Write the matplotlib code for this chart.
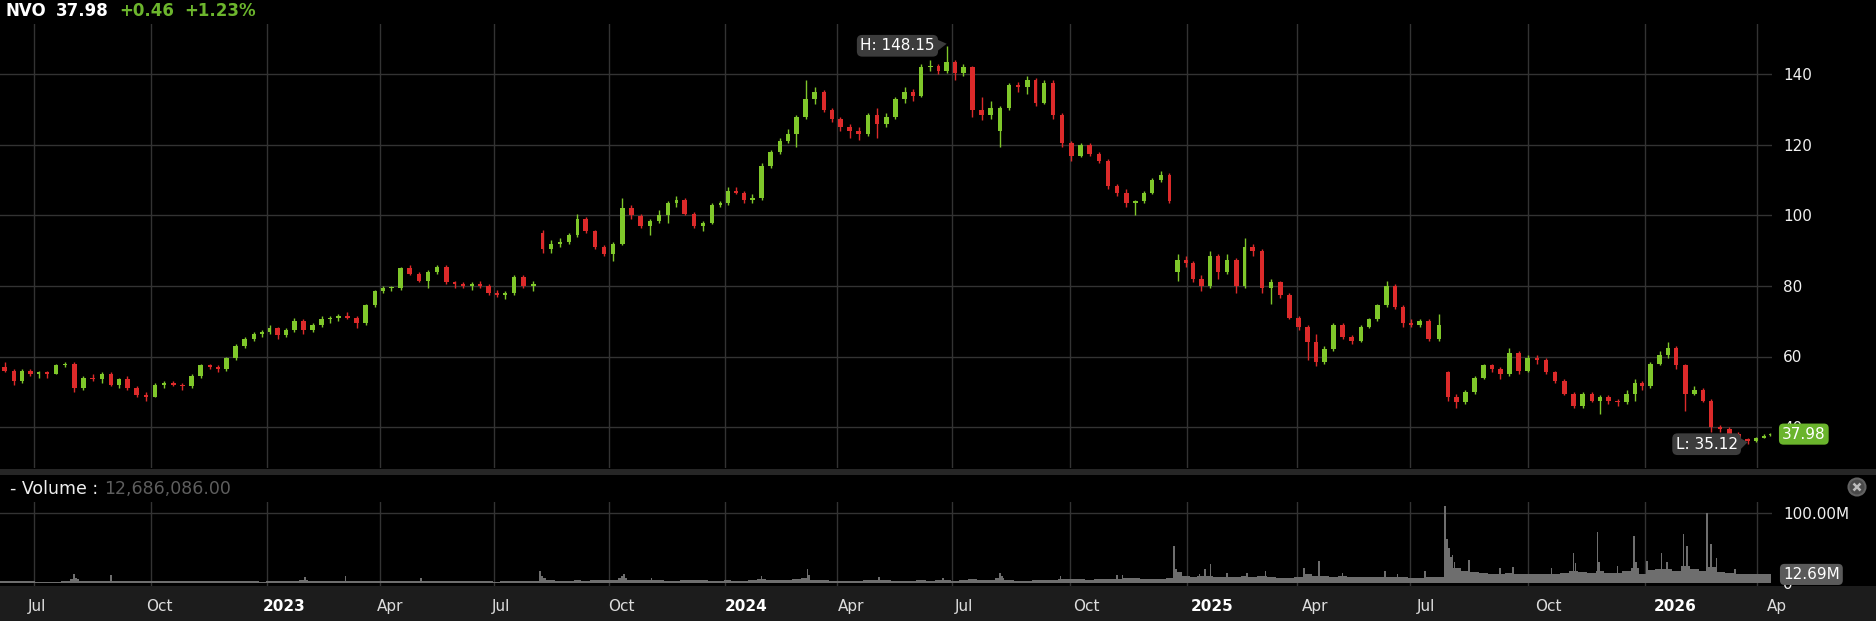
import numpy as np
import pandas as pd
import matplotlib
matplotlib.use("Agg")
import matplotlib.pyplot as plt
from matplotlib.patches import Rectangle, Polygon, Circle
from matplotlib.transforms import IdentityTransform, offset_copy

W, H = 1876, 621

# ---------------- data ----------------
ticker = "NVO"
last_price = 37.98
change_abs = "+0.46"
change_pct = "+1.23%"
last_volume = 12686086.00
period_high = 148.15
period_low = 35.12

# weekly candles (one per week, Monday start; three weeks split at price gaps)
first_week = "2022-06-06"
last_week = "2026-04-13"
gap_splits = {"2023-08-07": "2023-08-08", "2024-12-23": "2024-12-20", "2025-07-28": "2025-07-29"}

opens = [
    57, 56, 53, 56, 55, 55.5, 55, 57.5, 58, 51, 54, 53.5, 55, 52, 53.5, 51, 49, 48.5, 52, 52.5, 52, 51.5, 54.5, 57.5, 57, 56.5, 59.5, 63, 65, 66.5,
    67, 68, 66, 67.5, 70, 67.5, 69, 70.5, 71, 71.5, 71, 69.5, 74.5, 78.5, 79.5, 79.5, 85, 83.5, 81.5, 84, 85.5, 81, 80.5, 80, 80.5, 80, 78, 77.5, 78, 82.5,
    80, 95, 90.5, 92, 92.5, 94.5, 99, 95.5, 91, 89, 92, 102, 100, 97, 98.5, 100, 103.5, 104.5, 100.5, 97, 98, 103,
    103.5, 107, 106.5, 104.5, 105, 114, 118, 121, 123, 128, 133, 135, 130, 127.5, 125, 124, 123, 128.5, 126, 128, 133, 135, 134, 142, 142.5, 141,
    143.5, 140.5, 142, 130, 128.5, 124, 130.5, 137, 136.5, 138.5, 132, 137.5, 128.5, 120.5, 117, 120, 117.5, 115.5, 108.5, 106.5, 103.5, 104, 106.5, 110, 111.5, 84, 87.5,
    86.5, 82, 80, 88.5, 84, 87.5, 80, 91, 90, 79.5, 81, 77.5, 71, 68.5, 64, 58.5, 62, 69, 65.5, 64.5, 68.5, 70.5, 74.5, 80, 74, 69.5,
    69, 70, 65, 55.5, 48.5, 47, 50, 54, 57.5, 56.5, 55, 61, 56, 59.5, 59, 55.5, 53, 49.5, 46, 49.5, 47.5, 48.5, 47.5, 47, 49.5, 52.5,
    51.5, 58, 60.5, 62.5, 57.5, 49.5, 50.5, 47.5, 40, 39.5, 38, 36.5, 36, 37, 37.6,
]
highs = [
    58.5, 56.5, 56.5, 56.5, 56, 56, 58, 58.5, 58.5, 54.5, 55, 55.5, 55.5, 54, 54.5, 51.5, 50, 52.5, 53, 53, 52.5, 55, 58, 58, 57.5, 60, 63.5, 65.5, 67, 67.5,
    69, 68.5, 68, 71, 70.5, 69.5, 71.5, 71.5, 72, 72.5, 71.5, 75, 79, 80, 80, 85.5, 86, 84, 84.5, 86, 86, 81.5, 81, 81, 81.5, 80.5, 79, 78.5, 83, 83,
    81.5, 96, 93, 93.5, 95, 100.5, 99.5, 96, 91.5, 92.5, 105, 103, 100.5, 99, 101.5, 104, 105.5, 105, 101, 98.5, 103.5, 104,
    108, 108, 107, 106, 115, 118.5, 122, 124.5, 128.5, 138.5, 136.5, 135.5, 130.5, 128, 126, 125, 129, 130.5, 129, 133.5, 136.5, 136, 143, 144, 143, 148.15,
    144, 143, 142.5, 133.5, 132.5, 131, 137.5, 138, 139.5, 139, 138.5, 138.5, 129, 121, 120.5, 120.5, 118, 116, 109, 107.5, 104.5, 107, 110.5, 112.5, 112, 89, 88.5,
    87, 83, 90, 89, 89, 88, 93.5, 92, 90.5, 82, 81.5, 78, 71.5, 69, 66.5, 63, 69.5, 69.5, 66, 69, 71, 75, 81.5, 80.5, 74.5, 70.5,
    70.5, 70.5, 72, 56, 49.5, 50.5, 54.5, 58, 58, 57, 62.5, 61.5, 60.5, 60.5, 59.5, 56, 53.5, 50, 50, 50, 49, 49, 48, 50.5, 53.5, 53,
    58.5, 61.5, 64, 63, 58, 51.5, 51, 48, 40.5, 40, 38.5, 37, 37.3, 37.9, 38.2,
]
lows = [
    55.5, 52, 52.5, 54.5, 54, 54, 55, 57, 50, 50.5, 53, 52.5, 51.5, 51, 50.5, 48.5, 47.3, 48.5, 51, 51.5, 50.5, 51, 54, 56.5, 55.5, 56, 59, 62.5, 64.5, 65.5,
    66.5, 65, 65.5, 67, 66.5, 67, 68.5, 69.5, 70, 70.5, 68, 69, 74, 78, 78.5, 79, 83, 81, 79.5, 83.5, 80.5, 79.5, 79.5, 79, 79.5, 77.5, 77, 76.3, 77.5, 79.5,
    78.5, 89.5, 89.5, 91, 92, 94, 95, 90.5, 88.5, 87, 91.5, 99, 96.5, 94.5, 98, 98, 102.5, 100, 96.5, 95.5, 97.5, 102.5,
    103, 106, 103.5, 103.5, 104.5, 113.5, 117.5, 120.5, 119.5, 127.5, 131.5, 129.5, 126.5, 124, 122, 121.5, 122.5, 122, 125, 127.5, 132, 132.5, 133.5, 141, 140, 140.5,
    138.5, 139.5, 128, 127, 127.5, 119.3, 130, 135, 134.5, 131, 131.5, 127.5, 119.5, 115.5, 116.5, 117, 115, 107.5, 105.5, 102.5, 100, 103.5, 106, 109.5, 103.5, 81.5, 85.5,
    81, 78.5, 79.5, 82, 83.5, 78, 79.5, 88.5, 78, 75, 76.5, 70.5, 67.5, 59, 57.3, 58, 61.5, 65, 63.5, 64, 68, 70, 74, 73.5, 68.5, 68.5,
    68.5, 64.5, 64.5, 47.5, 45.3, 46.5, 49.5, 53.5, 55.5, 53.5, 54.5, 55, 55.5, 58, 55, 52.5, 49, 45.3, 45.5, 47, 43.8, 46.5, 46, 46.5, 47.5, 50.5,
    51, 57.5, 59.5, 56.5, 44.5, 49, 47, 38.5, 38.5, 37.5, 36, 35.12, 35.8, 36.8, 37.4,
]
closes = [
    56, 53, 56, 55, 55.5, 55, 57.5, 58, 51, 54, 53.5, 55, 52, 53.5, 51, 49, 48.5, 52, 52.5, 52, 51.5, 54.5, 57.5, 57, 56.5, 59.5, 63, 65, 66.5, 67,
    68, 66, 67.5, 70, 67.5, 69, 70.5, 71, 71.5, 71, 69.5, 74.5, 78.5, 79.5, 79.5, 85, 83.5, 81.5, 84, 85.5, 81, 80.5, 80, 80.5, 80, 78, 77.5, 78, 82.5, 80,
    80.5, 90.5, 92, 92.5, 94.5, 99, 95.5, 91, 89, 92, 102, 100, 97, 98.5, 100, 103.5, 104.5, 100.5, 97, 98, 103, 103.5,
    107, 106.5, 104.5, 105, 114, 118, 121, 123, 128, 133, 135, 130, 127.5, 125, 124, 123, 128.5, 126, 128, 133, 135, 134, 142, 142.5, 141, 143.5,
    140.5, 142, 130, 128.5, 130.5, 130.5, 137, 136.5, 138.5, 132, 137.5, 128.5, 120.5, 117, 120, 117.5, 115.5, 108.5, 106.5, 103.5, 104, 106.5, 110, 111.5, 104, 87.5, 86.5,
    82, 80, 88.5, 84, 87.5, 80, 91, 90, 79.5, 81, 77.5, 71, 68.5, 64, 58.5, 62, 69, 65.5, 64.5, 68.5, 70.5, 74.5, 80, 74, 69.5, 69,
    70, 65, 69, 48.5, 47, 50, 54, 57.5, 56.5, 55, 61, 56, 59.5, 59, 55.5, 53, 49.5, 46, 49.5, 47.5, 48.5, 47.5, 47, 49.5, 52.5, 51.5,
    58, 60.5, 62.5, 57.5, 49.5, 50.5, 47.5, 40, 39.5, 38, 36.5, 36, 37, 37.52, 37.98,
]
# typical daily volume of each week, millions
volume_week = [
    3.5, 3.5, 3, 3, 2.5, 2.5, 2.5, 3, 6, 4, 3, 3, 3, 3, 3, 3.5, 4, 3.5, 3, 3, 3, 3.5, 3.5, 3, 3, 3.5, 4, 3.5, 3, 2.5,
    3.5, 3, 3, 3.5, 5, 3.5, 3, 3, 3.5, 3.5, 4, 3.5, 4, 3.5, 3, 4, 3.5, 4, 4, 3.5, 3.5, 3.5, 3, 3, 3, 3, 2.5, 3, 3.5, 3, 3.5,
    8, 5, 4, 4, 4.5, 4, 4.5, 5, 5, 7, 5, 4.5, 4.5, 4.5, 4, 4, 4.5, 4.5, 4.5, 4, 3.5,
    4.5, 4, 4, 4.5, 6, 5, 5, 4.5, 5.5, 7, 5, 4.5, 4, 4, 4, 4, 4.5, 5, 4.5, 4, 4, 4, 4.5, 4, 4.5, 5, 4, 4.5, 5.5, 5, 5,
    7, 5, 4, 4, 4.5, 4.5, 5, 6, 6, 5.5, 5, 5.5, 6.5, 6.5, 7, 7, 6, 6, 6, 7, 16, 10,
    9, 10, 11, 9, 9, 9, 10, 9, 10, 9, 8, 8, 9, 13, 11, 10, 9, 10, 9, 8.5, 8.5, 8.5, 9, 9, 8.5, 8, 8, 8.5, 9, 30,
    22, 18, 16, 15, 14, 14, 15, 14, 13.5, 13, 13, 14, 15, 17, 16, 15, 17, 15, 15, 17, 22, 14,
    19, 20, 20, 18, 25, 20, 18, 24, 16, 15, 14, 14, 13, 13, 12.69,
]
# single-day volume spikes, millions
spike_dates = [
    "2022-08-03", "2022-08-04", "2022-08-31", "2023-02-02", "2023-03-07", "2023-05-04", "2023-08-08", "2023-08-09",
    "2023-10-11", "2023-10-12", "2023-11-02", "2024-01-31", "2024-03-07", "2024-03-08", "2024-05-02", "2024-06-24",
    "2024-08-07", "2024-08-08", "2024-09-24", "2024-11-06", "2024-11-11", "2024-12-20", "2024-12-23",
    "2025-01-14", "2025-01-17", "2025-01-23", "2025-02-05", "2025-02-21", "2025-03-07", "2025-04-07", "2025-04-17",
    "2025-05-07", "2025-06-10", "2025-06-20", "2025-07-14", "2025-07-29", "2025-07-30", "2025-07-31", "2025-08-01",
    "2025-08-04", "2025-08-05", "2025-08-15", "2025-09-10", "2025-09-19", "2025-10-20", "2025-11-05", "2025-11-06",
    "2025-11-24", "2025-11-25", "2025-12-10", "2025-12-23", "2025-12-24", "2026-01-05", "2026-01-15", "2026-01-21",
    "2026-02-03", "2026-02-05", "2026-02-23", "2026-02-25", "2026-03-02", "2026-03-16",
]
spike_values = [
    13, 8, 12.5, 9, 10, 7, 18, 10,
    11, 13, 8, 10, 20, 12, 9, 8,
    14.5, 10, 10, 12, 12, 53, 20,
    14, 21, 27, 15, 15, 17, 22, 32,
    15, 17, 14, 17, 110, 64, 50, 38,
    40, 30, 33, 22, 24, 22, 44, 29,
    73, 30, 25, 68, 30, 32, 44, 31,
    70, 53, 100, 56, 36, 20,
]
price_ticks = [40, 60, 80, 100, 120, 140]
volume_ticks = [0, 100]
volume_tick_labels = ["0", "100.00M"]
month_names = {1: None, 4: "Apr", 7: "Jul", 10: "Oct"}

# exchange holidays (for the trading-day x axis)
holidays = [
    "2022-06-20", "2022-07-04", "2022-09-05", "2022-11-24", "2022-12-26",
    "2023-01-02", "2023-01-16", "2023-02-20", "2023-04-07", "2023-05-29", "2023-06-19", "2023-07-04", "2023-09-04", "2023-11-23", "2023-12-25",
    "2024-01-01", "2024-01-15", "2024-02-19", "2024-03-29", "2024-05-27", "2024-06-19", "2024-07-04", "2024-09-02", "2024-11-28", "2024-12-25",
    "2025-01-01", "2025-01-09", "2025-01-20", "2025-02-17", "2025-04-18", "2025-05-26", "2025-06-19", "2025-07-04", "2025-09-01", "2025-11-27", "2025-12-25",
    "2026-01-01", "2026-01-19", "2026-02-16", "2026-04-03",
]

# ---------------- styling ----------------
BG = "#000000"
GRID = "#333333"
GREEN = "#7fc72a"
RED = "#dc2a2a"
VOLC = "#6e6e6e"
TXT = "#f0f0f0"
UPTXT = "#6cb52d"

plt.rcParams["font.family"] = ["DejaVu Sans"]

# trading-day axis
tdays = pd.bdate_range("2022-06-01", last_week)
tdays = tdays[~tdays.isin(pd.to_datetime(holidays))]

starts = [gap_splits.get(d.strftime("%Y-%m-%d"), d.strftime("%Y-%m-%d"))
          for d in pd.date_range(first_week, last_week, freq="W-MON")]
s_idx = np.searchsorted(tdays, pd.to_datetime(starts))
e_idx = np.append(s_idx[1:], len(tdays))
n_days = e_idx - s_idx
centers = (s_idx + e_idx - 1) / 2.0

o = np.array(opens, float); h = np.array(highs, float)
l = np.array(lows, float); c = np.array(closes, float)
vol = np.array(volume_week, float)
n = min(len(starts), len(o), len(h), len(l), len(c), len(vol))
o, h, l, c, vol = o[:n], h[:n], l[:n], c[:n], vol[:n]
centers, n_days, s_idx = centers[:n], n_days[:n], s_idx[:n]

# calibrate pixels: Jul 1 2022 -> x=34, Jan 2 2026 -> x=1645
i_a = np.searchsorted(tdays, pd.Timestamp("2022-07-01"))
i_b = np.searchsorted(tdays, pd.Timestamp("2026-01-02"))
scale = (1645 - 34) / (i_b - i_a)
xl = i_a - 34 / scale
xr = xl + 1772 / scale

fig = plt.figure(figsize=(W / 100, H / 100), dpi=100, facecolor=BG)


def rect(x0, y0, x1, y1):
    return [x0 / W, 1 - y1 / H, (x1 - x0) / W, (y1 - y0) / H]


def fpos(x, y):
    return x / W, 1 - y / H


# background bands
fig.patches.append(Rectangle(fpos(0, 475), 1, 6 / H, transform=fig.transFigure, fc="#262626", ec="none", zorder=-5))
fig.patches.append(Rectangle(fpos(0, 621), 1, 35 / H, transform=fig.transFigure, fc="#1c1c1c", ec="none", zorder=-5))

ax = fig.add_axes(rect(0, 24, 1772, 468))
axv = fig.add_axes(rect(0, 502, 1772, 586))
for a in (ax, axv):
    a.set_facecolor("none")
    for s in a.spines.values():
        s.set_visible(False)
    a.set_xlim(xl, xr)
    a.set_xticks([])

# price scale: 140 at y=74.5, 3.525 px per unit
ppu = 3.525
ax.set_ylim(140 - (468 - 74.5) / ppu, 140 + (74.5 - 24) / ppu)
vpm = 0.7  # px per million, 0 at y=583.3
axv.set_ylim(-(586 - 583.3) / vpm, (583.3 - 502) / vpm)

# quarter gridlines
quarters = pd.date_range("2022-07-01", "2026-04-01", freq="QS")
q_idx = np.searchsorted(tdays, quarters)
for qi in q_idx:
    ax.axvline(qi, color=GRID, lw=1, zorder=0)
    axv.axvline(qi, color=GRID, lw=1, zorder=0)
for p in price_ticks:
    ax.axhline(p, color=GRID, lw=1, zorder=0)
axv.axhline(100, color=GRID, lw=1, zorder=0)

# candles
col = np.where(c >= o, GREEN, RED)
widths = np.minimum(n_days, 5) * 0.5
ax.vlines(centers, l, h, colors=col, lw=1, zorder=2)
ax.bar(centers, np.maximum(np.abs(c - o), 0.3), bottom=np.minimum(o, c), width=widths,
       color=col, linewidth=0, zorder=3)

# volume
axv.bar(s_idx - 0.5, vol, width=n_days, align="edge", color=VOLC, linewidth=0, zorder=2)
sp_idx = np.searchsorted(tdays, pd.to_datetime(spike_dates))
axv.bar(sp_idx, spike_values, width=0.9, color=VOLC, linewidth=0, zorder=2)

# right axis labels
ax.yaxis.tick_right()
ax.set_yticks(price_ticks)
ax.set_yticklabels([str(t) for t in price_ticks])
ax.tick_params(axis="y", length=0, pad=8, labelsize=11, labelcolor=TXT)
axv.yaxis.tick_right()
axv.set_yticks(volume_ticks)
axv.set_yticklabels(volume_tick_labels)
axv.tick_params(axis="y", length=0, pad=8, labelsize=11, labelcolor=TXT)

# date labels in bottom band
axd = fig.add_axes(rect(0, 586, 1787, 621))
axd.set_facecolor("none")
axd.axis("off")
axd.set_xlim(xl, xl + 1787 / scale)
axd.set_ylim(0, 1)
for q, qi in zip(quarters, q_idx):
    xpix = (qi - xl) * scale
    off = -7 + 17 * xpix / 1766
    lab = month_names[q.month] or str(q.year)
    bold = q.month == 1
    tr = offset_copy(axd.transData, fig=fig, x=off, y=0, units="dots")
    axd.text(qi, 0.42, lab, transform=tr, ha="left", va="center", fontsize=11,
             fontweight="bold" if bold else "normal", color="white" if bold else "#dddddd", clip_on=True)

# header
hdr_y = 11.5
fig.text(*fpos(5, hdr_y), ticker, color="white", fontsize=12, fontweight="bold", va="center")
fig.text(*fpos(55.5, hdr_y), f"{last_price:.2f}", color="white", fontsize=12, fontweight="bold", va="center")
fig.text(*fpos(119, hdr_y), change_abs, color=UPTXT, fontsize=12, fontweight="bold", va="center")
fig.text(*fpos(184, hdr_y), change_pct, color=UPTXT, fontsize=12, fontweight="bold", va="center")

vol_lab = fig.text(*fpos(10, 488.5), "- Volume :", color="#eeeeee", fontsize=12.5, va="center")

# close button (pixel coordinates)
cbx, cby = 1857, H - 487
fig.patches.append(Circle((cbx, cby), 8.5, transform=IdentityTransform(), fc="#4a4a4a", ec="#626262", lw=1.5, zorder=5))
fig.patches.append(Polygon([[cbx - 3.5, cby - 3.5], [cbx + 3.5, cby + 3.5]], closed=False, fill=False,
                           transform=IdentityTransform(), ec="#bdbdbd", lw=1.8, zorder=6))
fig.patches.append(Polygon([[cbx - 3.5, cby + 3.5], [cbx + 3.5, cby - 3.5]], closed=False, fill=False,
                           transform=IdentityTransform(), ec="#bdbdbd", lw=1.8, zorder=6))

fig.canvas.draw()
renderer = fig.canvas.get_renderer()
vb = vol_lab.get_window_extent(renderer)
fig.text((vb.x1 + 6) / W, 1 - 488.5 / H, f"{last_volume:,.2f}", color="#5e5e5e", fontsize=12.5, va="center")


def disp(a, x, y):
    return a.transData.transform((x, y))


# high / low markers
def marker(idx_pos, val, text, gap):
    px, py = disp(ax, idx_pos, val)
    right = px - gap
    fig.text(right / W - 4 / W, py / H, text, color="white", fontsize=11, ha="right", va="center", zorder=7,
             bbox=dict(boxstyle="round,pad=0.22,rounding_size=0.35", fc="#3c3c3c", ec="none"))
    tri = Polygon([[right - 1, py + 6], [right - 1, py - 5], [px, py + 2]], closed=True,
                  transform=IdentityTransform(), fc="#3c3c3c", ec="none", zorder=7)
    fig.patches.append(tri)


ih = int(np.argmax(h)); il = int(np.argmin(l))
marker(centers[ih], period_high, f"H: {period_high:.2f}", 8)
marker(centers[il], period_low, f"L: {period_low:.2f}", 6)

# last price tag
_, py = disp(ax, centers[-1], last_price)
fig.text(1782 / W, py / H, f"{last_price:.2f}", color="white", fontsize=11, ha="left", va="center", zorder=7,
         bbox=dict(boxstyle="round,pad=0.2,rounding_size=0.3", fc="#6ab42c", ec="none"))
# last volume tag
_, vy = disp(axv, centers[-1], last_volume / 1e6)
fig.text(1783 / W, vy / H, f"{last_volume / 1e6:.2f}M", color="white", fontsize=11, ha="left", va="center", zorder=7,
         bbox=dict(boxstyle="round,pad=0.2,rounding_size=0.3", fc="#5a5a5a", ec="none"))

fig.savefig("out.png", dpi=100, facecolor=BG)
